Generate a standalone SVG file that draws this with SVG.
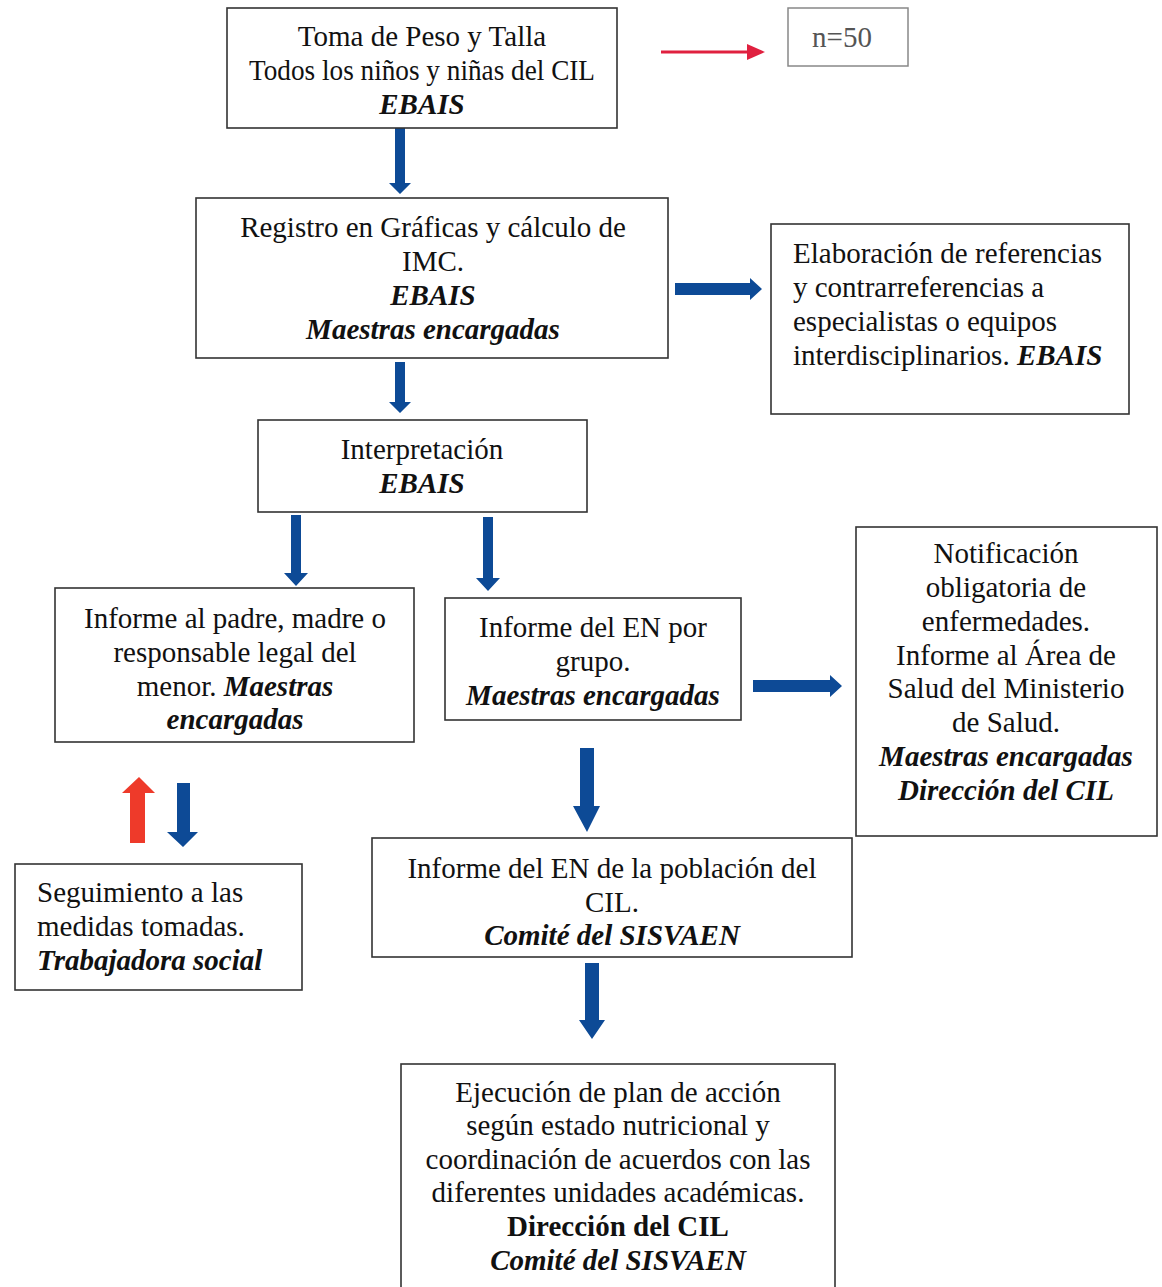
<svg xmlns="http://www.w3.org/2000/svg" width="1162" height="1287" viewBox="0 0 1162 1287">
<style>
.b{fill:#fff;stroke:#333;stroke-width:1.6}
.t{font-family:"Liberation Serif","Times New Roman",serif;font-size:29px;fill:#111}
.c{text-anchor:middle}
.bi{font-weight:bold;font-style:italic}
.bo{font-weight:bold}
.ba{fill:#0d4a96}
.ra{fill:#ee3a2a}
</style>
<rect width="1162" height="1287" fill="#fff"/>
<g id="connectors">
<line x1="661" y1="52" x2="750" y2="52" stroke="#e0203f" stroke-width="3"/>
<polygon points="747,44 765,52 747,60" fill="#e0203f"/>
<polygon class="ba" points="395,128 405,128 405,183 411,183 400,194 389,183 395,183"/>
<polygon class="ba" points="675,283 750,283 750,278 762,289 750,300 750,295 675,295"/>
<polygon class="ba" points="395,362 405,362 405,402 411,402 400,413 389,402 395,402"/>
<polygon class="ba" points="291,515 301,515 301,573 308,573 296,586 284,573 291,573"/>
<polygon class="ba" points="483,517 493,517 493,578 500,578 488,591 476,578 483,578"/>
<polygon class="ba" points="753,680 830,680 830,675 842,686 830,697 830,692 753,692"/>
<polygon class="ba" points="580,748 594,748 594,806 600,806 587,832 573,806 580,806"/>
<polygon class="ra" points="130,843 145,843 145,793 155,793 139,777 122,793 130,793"/>
<polygon class="ba" points="177,783 190,783 190,832 198,832 183,847 167,832 177,832"/>
<polygon class="ba" points="585,963 599,963 599,1020 605,1020 592,1039 579,1020 585,1020"/>
</g>
<g id="n1">
<rect class="b" x="227" y="8" width="390" height="120"/>
<text class="t c" x="422" y="46">Toma de Peso y Talla</text>
<text class="t c" x="422" y="80" textLength="346" lengthAdjust="spacingAndGlyphs">Todos los niños y niñas del CIL</text>
<text class="t c bi" x="422" y="114">EBAIS</text>
</g>
<g id="n50">
<rect x="788" y="8" width="120" height="58" fill="#fff" stroke="#888" stroke-width="1.5"/>
<text class="t c" x="842" y="47" style="fill:#555">n=50</text>
</g>
<g id="n2">
<rect class="b" x="196" y="198" width="472" height="160"/>
<text class="t c" x="433" y="237">Registro en Gráficas y cálculo de</text>
<text class="t c" x="433" y="271">IMC.</text>
<text class="t c bi" x="433" y="305">EBAIS</text>
<text class="t c bi" x="433" y="339">Maestras encargadas</text>
</g>
<g id="n3">
<rect class="b" x="771" y="224" width="358" height="190"/>
<text class="t" x="793" y="263">Elaboración de referencias</text>
<text class="t" x="793" y="297">y contrarreferencias a</text>
<text class="t" x="793" y="331">especialistas o equipos</text>
<text class="t" x="793" y="365">interdisciplinarios. <tspan class="bi">EBAIS</tspan></text>
</g>
<g id="n4">
<rect class="b" x="258" y="420" width="329" height="92"/>
<text class="t c" x="422" y="459">Interpretación</text>
<text class="t c bi" x="422" y="493">EBAIS</text>
</g>
<g id="n5">
<rect class="b" x="55" y="588" width="359" height="154"/>
<text class="t c" x="235" y="628">Informe al padre, madre o</text>
<text class="t c" x="235" y="662">responsable legal del</text>
<text class="t c" x="235" y="696">menor. <tspan class="bi">Maestras</tspan></text>
<text class="t c bi" x="235" y="729">encargadas</text>
</g>
<g id="n6">
<rect class="b" x="445" y="598" width="296" height="122"/>
<text class="t c" x="593" y="637">Informe del EN por</text>
<text class="t c" x="593" y="671">grupo.</text>
<text class="t c bi" x="593" y="705">Maestras encargadas</text>
</g>
<g id="n7">
<rect class="b" x="856" y="527" width="301" height="309"/>
<text class="t c" x="1006" y="563">Notificación</text>
<text class="t c" x="1006" y="597">obligatoria de</text>
<text class="t c" x="1006" y="631">enfermedades.</text>
<text class="t c" x="1006" y="665">Informe al Área de</text>
<text class="t c" x="1006" y="698">Salud del Ministerio</text>
<text class="t c" x="1006" y="732">de Salud.</text>
<text class="t c bi" x="1006" y="766">Maestras encargadas</text>
<text class="t c bi" x="1006" y="800">Dirección del CIL</text>
</g>
<g id="n8">
<rect class="b" x="15" y="864" width="287" height="126"/>
<text class="t" x="37" y="902">Seguimiento a las</text>
<text class="t" x="37" y="936">medidas tomadas.</text>
<text class="t bi" x="37" y="970">Trabajadora social</text>
</g>
<g id="n9">
<rect class="b" x="372" y="838" width="480" height="119"/>
<text class="t c" x="612" y="878">Informe del EN de la población del</text>
<text class="t c" x="612" y="912">CIL.</text>
<text class="t c bi" x="612" y="945">Comité del SISVAEN</text>
</g>
<g id="n10">
<rect class="b" x="401" y="1064" width="434" height="230"/>
<text class="t c" x="618" y="1102">Ejecución de plan de acción</text>
<text class="t c" x="618" y="1135">según estado nutricional y</text>
<text class="t c" x="618" y="1169">coordinación de acuerdos con las</text>
<text class="t c" x="618" y="1202">diferentes unidades académicas.</text>
<text class="t c bo" x="618" y="1236">Dirección del CIL</text>
<text class="t c bi" x="618" y="1270">Comité del SISVAEN</text>
</g>
</svg>
